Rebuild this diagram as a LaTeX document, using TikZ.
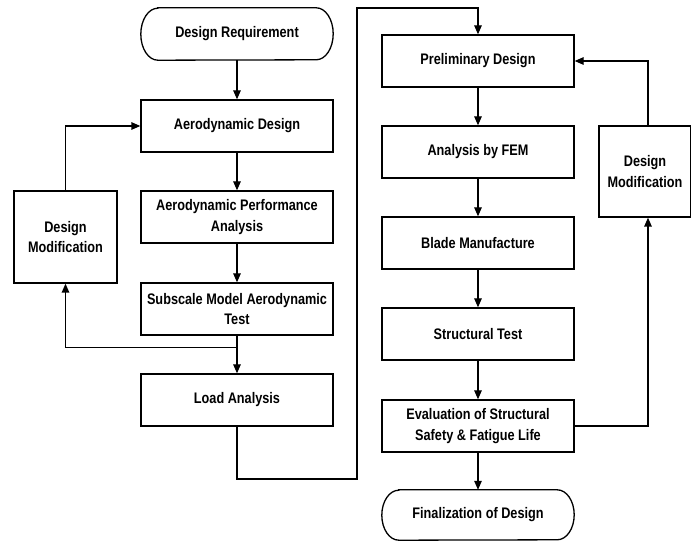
\documentclass[tikz,border=0pt]{standalone}
\usepackage{fontspec}
\setmainfont{Liberation Sans}[FakeStretch=0.83]
\usetikzlibrary{arrows.meta,calc}

% elliptic-ended outline for start / end nodes
\newcommand{\stadium}[2]{%
  \draw[line width=1.3pt]
    ([xshift=17]#1.north west) -- ([xshift=-17]#1.north east)
    arc[start angle=90, end angle=-90, x radius=17, y radius=#2]
    -- ([xshift=17]#1.south west)
    arc[start angle=270, end angle=90, x radius=17, y radius=#2] -- cycle;}

\begin{document}
\begin{tikzpicture}[x=1pt, y=1pt,
    txt/.style={font=\fontsize{15.3}{20.5}\selectfont\bfseries, align=center, inner sep=0pt},
    proc/.style={txt, draw, line width=1.3pt, minimum width=192, minimum height=52},
    term/.style={txt, minimum width=192, minimum height=52},
    modbox/.style={txt, draw, line width=1.3pt, minimum height=92},
    flow/.style={line width=1.3pt, -{Triangle[length=9pt, width=7.5pt]}},
    plain/.style={line width=1.3pt}]
  \useasboundingbox (0,0) rectangle (691,541);

  % Left column: aerodynamic design
  \node[term] (req)  at (237,507) {Design Requirement};
  \node[proc] (aero) at (237,415) {Aerodynamic Design};
  \node[proc] (perf) at (237,324) {Aerodynamic Performance\\Analysis};
  \node[proc] (sub)  at (237,232) {Subscale Model Aerodynamic\\Test};
  \node[proc] (load) at (237,141) {Load Analysis};
  \node[modbox, minimum width=103] (ldm) at (65.5,304) {Design\\Modification};
  \stadium{req}{26}

  % Right column: structural design
  \node[proc] (prel)   at (478,480) {Preliminary Design};
  \node[proc] (fem)    at (478,389) {Analysis by FEM};
  \node[proc] (blade)  at (478,298) {Blade Manufacture};
  \node[proc] (struct) at (478,207) {Structural Test};
  \node[proc] (eval)   at (478,115) {Evaluation of Structural\\Safety \& Fatigue Life};
  \node[term, minimum height=50] (fin) at (478,26) {Finalization of Design};
  \node[modbox, minimum width=92, minimum height=91] (rdm) at (645,369.5) {Design\\Modification};
  \stadium{fin}{25}

  % Main flow
  \foreach \a/\b in {req/aero, aero/perf, perf/sub, sub/load,
                     prel/fem, fem/blade, blade/struct, struct/eval, eval/fin}
    \draw[flow] (\a) -- (\b);

  % Left feedback loop
  \coordinate (split) at ($(sub.south)+(0,-12)$);
  \draw[flow] (split) -| (ldm.south);
  \draw[flow] (ldm.north) |- (aero.west);

  % Link between the columns
  \coordinate (c1) at (357,62);
  \coordinate (c2) at (357,533);
  \draw[flow] (load.south) |- (c1) -- (c2) -| (prel.north);

  % Right feedback loop
  \coordinate (rl) at (648,0);
  \draw[flow] (eval.east) -| (rl |- rdm.south);
  \draw[flow] (rl |- rdm.north) |- (prel.east);
\end{tikzpicture}
\end{document}
